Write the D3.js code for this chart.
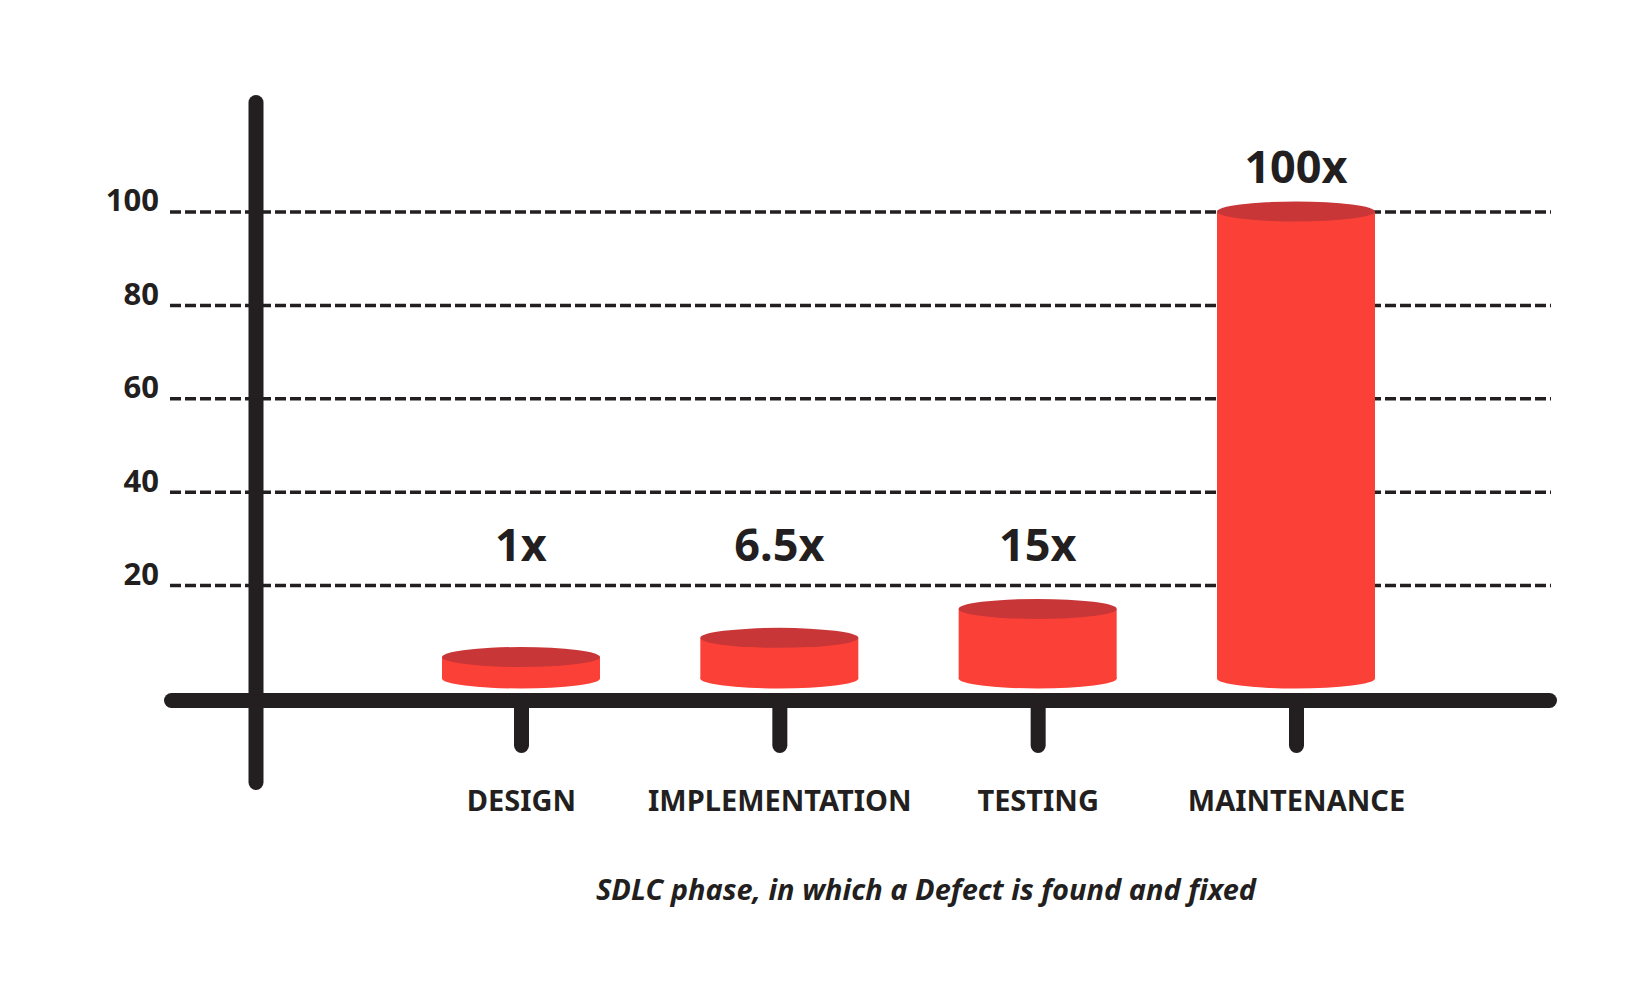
<!DOCTYPE html>
<html>
<head>
<meta charset="utf-8">
<script src="https://d3js.org/d3.v7.min.js"></script>
<style>
    body { margin: 0; background: #ffffff; }
    text { font-family: "Noto Sans", "Open Sans", sans-serif; fill: #231f20; }
</style>
</head>
<body>
<div id="chart-area"></div>
<script>
// data
var phases = ["DESIGN", "IMPLEMENTATION", "TESTING", "MAINTENANCE"];
var multipliers = ["1x", "6.5x", "15x", "100x"];
var barHeights = [4.6, 8.7, 14.9, 100];   // heights as they sit on the y axis
var yTicks = [20, 40, 60, 80, 100];
var axisTitle = "SDLC phase, in which a Defect is found and fixed";

var ink = "#231f20";
var bodyColor = "#fb4137";
var topColor = "#c93638";

var width = 1649;
var height = 994;

var svg = d3.select("#chart-area").append("svg")
    .attr("width", width)
    .attr("height", height);

var y = d3.scaleLinear()
    .domain([0, 100])
    .range([678.5, 211.5]);

var x = d3.scalePoint()
    .domain(phases)
    .range([521, 1296]);

var barW = 158;
var ry = 10;

// gridlines + y labels
var yAxis = d3.axisLeft(y)
    .tickValues(yTicks)
    .tickSize(-(1551 - 170))
    .tickPadding(11);
var gy = svg.append("g")
    .attr("class", "y-axis")
    .attr("transform", "translate(170,0)")
    .call(yAxis);
gy.select(".domain").remove();
gy.selectAll(".tick line")
    .attr("stroke", ink)
    .attr("stroke-width", 3.5)
    .attr("stroke-dasharray", "11,4");
gy.selectAll(".tick text")
    .attr("dy", "-0.02em")
    .attr("font-size", "31px")
    .attr("font-weight", "bold")
    .attr("fill", ink);

// vertical axis line
svg.append("line")
    .attr("x1", 256).attr("x2", 256)
    .attr("y1", 102.5).attr("y2", 782.5)
    .attr("stroke", ink)
    .attr("stroke-width", 15)
    .attr("stroke-linecap", "round");

// cylinders
var bars = svg.selectAll("g.bar")
    .data(phases)
    .enter()
    .append("g")
    .attr("class", "bar");

bars.append("ellipse")
    .attr("cx", (d) => x(d))
    .attr("cy", y(0))
    .attr("rx", barW / 2)
    .attr("ry", ry)
    .attr("fill", bodyColor);
bars.append("rect")
    .attr("x", (d) => x(d) - barW / 2)
    .attr("y", (d, i) => y(barHeights[i]))
    .attr("width", barW)
    .attr("height", (d, i) => y(0) - y(barHeights[i]))
    .attr("fill", bodyColor);
bars.append("ellipse")
    .attr("cx", (d) => x(d))
    .attr("cy", (d, i) => y(barHeights[i]))
    .attr("rx", barW / 2)
    .attr("ry", ry)
    .attr("fill", topColor);

// multiplier labels
bars.append("text")
    .attr("x", (d) => x(d))
    .attr("y", (d, i) => Math.min(y(barHeights[i]) - 29, y(20) - 24))
    .attr("text-anchor", "middle")
    .attr("font-size", "45px")
    .attr("font-weight", "bold")
    .text((d, i) => multipliers[i]);

// x axis: ticks and phase names
var xAxis = d3.axisBottom(x)
    .tickSize(45)
    .tickSizeOuter(0)
    .tickPadding(45);
var gx = svg.append("g")
    .attr("class", "x-axis")
    .attr("transform", "translate(0,700.5)")
    .call(xAxis);
gx.select(".domain").remove();
gx.selectAll(".tick line")
    .attr("stroke", ink)
    .attr("stroke-width", 15)
    .attr("stroke-linecap", "round");
gx.selectAll(".tick text")
    .attr("font-size", "29px")
    .attr("font-weight", "bold")
    .attr("fill", ink);

// horizontal axis line
svg.append("line")
    .attr("x1", 171.5).attr("x2", 1549.5)
    .attr("y1", 700.5).attr("y2", 700.5)
    .attr("stroke", ink)
    .attr("stroke-width", 15)
    .attr("stroke-linecap", "round");

// axis title
svg.append("text")
    .attr("x", 926)
    .attr("y", 900)
    .attr("text-anchor", "middle")
    .attr("font-size", "29px")
    .attr("font-weight", "bold")
    .attr("font-style", "italic")
    .text(axisTitle);
</script>
</body>
</html>
